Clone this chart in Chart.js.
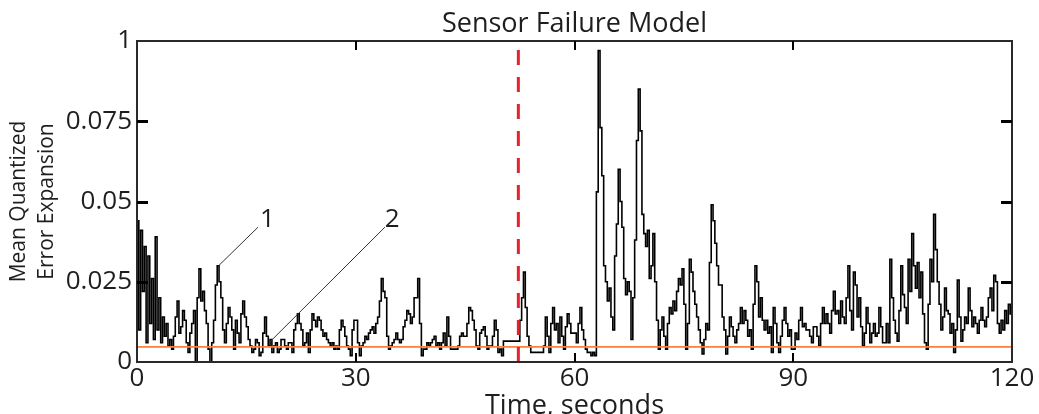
<!DOCTYPE html>
<html>
<head>
<meta charset="utf-8">
<script src="https://cdn.jsdelivr.net/npm/chart.js@4.4.1/dist/chart.umd.min.js"></script>
<style>
  html, body { margin: 0; padding: 0; background: #ffffff; }
  #wrap { width: 1039px; height: 414px; }
</style>
</head>
<body>
<div id="wrap"><canvas id="c" width="1039" height="414"></canvas></div>
<script>
// ---------------- data ----------------
const chartTitle = 'Sensor Failure Model';
const xAxisTitle = 'Time, seconds';
const yAxisTitle = ['Mean Quantized', 'Error Expansion'];
const xTickLabels = ['0', '30', '60', '90', '120'];
const yTickLabels = ['0', '0.025', '0.05', '0.075', '1'];

const sampleStep = 0.25; // seconds between samples

// Mean quantized error expansion, one value every 0.25 s from t = 0 to t = 120
const errorValues = [
  0.044, 0.010, 0.041, 0.022, 0.036, 0.006, 0.033, 0.012, 0.026, 0.007, 0.039, 0.010, 0.020, 0.006, 0.014, 0.008, 0.012, 0.005, 0.007, 0.004,
  0.008, 0.014, 0.019, 0.009, 0.011, 0.016, 0.013, 0.006, 0.003, 0.009, 0.012, 0.016, 0.000, 0.020, 0.029, 0.019, 0.022, 0.016, 0.012, 0.004,
  0.000, 0.006, 0.013, 0.024, 0.030, 0.025, 0.020, 0.010, 0.006, 0.012, 0.017, 0.014, 0.010, 0.004, 0.013, 0.009, 0.006, 0.015, 0.019, 0.014,
  0.011, 0.007, 0.005, 0.003, 0.004, 0.007, 0.006, 0.002, 0.003, 0.009, 0.014, 0.008, 0.005, 0.007, 0.003, 0.005, 0.006, 0.003, 0.004, 0.007,
  0.007, 0.005, 0.004, 0.006, 0.006, 0.003, 0.010, 0.012, 0.015, 0.012, 0.010, 0.005, 0.006, 0.009, 0.003, 0.010, 0.015, 0.013, 0.011, 0.014,
  0.013, 0.010, 0.008, 0.009, 0.007, 0.006, 0.005, 0.006, 0.004, 0.005, 0.004, 0.010, 0.013, 0.011, 0.008, 0.005, 0.004, 0.002, 0.010, 0.013,
  0.013, 0.006, 0.002, 0.005, 0.006, 0.008, 0.007, 0.009, 0.010, 0.011, 0.009, 0.012, 0.014, 0.019, 0.026, 0.022, 0.020, 0.008, 0.004, 0.005,
  0.006, 0.007, 0.009, 0.007, 0.006, 0.007, 0.011, 0.013, 0.016, 0.015, 0.012, 0.014, 0.020, 0.020, 0.026, 0.012, 0.002, 0.004, 0.004, 0.006,
  0.005, 0.006, 0.007, 0.008, 0.005, 0.006, 0.004, 0.006, 0.009, 0.005, 0.014, 0.008, 0.004, 0.004, 0.004, 0.004, 0.005, 0.008, 0.009, 0.008,
  0.008, 0.012, 0.017, 0.016, 0.013, 0.010, 0.005, 0.004, 0.009, 0.010, 0.011, 0.008, 0.004, 0.005, 0.005, 0.008, 0.013, 0.010, 0.003, 0.004,
  0.002, 0.0065, 0.0065, 0.0065, 0.0065, 0.0065, 0.0065, 0.0065, 0.0065, 0.0065, 0.013, 0.020, 0.028, 0.017, 0.008, 0.005, 0.003, 0.003, 0.003, 0.003,
  0.003, 0.003, 0.003, 0.005, 0.014, 0.008, 0.003, 0.012, 0.017, 0.010, 0.012, 0.006, 0.014, 0.008, 0.004, 0.011, 0.015, 0.012, 0.009, 0.009,
  0.009, 0.006, 0.012, 0.017, 0.010, 0.007, 0.004, 0.003, 0.003, 0.002, 0.003, 0.002, 0.053, 0.097, 0.073, 0.058, 0.030, 0.025, 0.019, 0.023,
  0.014, 0.010, 0.033, 0.043, 0.060, 0.050, 0.042, 0.026, 0.021, 0.025, 0.022, 0.007, 0.020, 0.038, 0.069, 0.085, 0.072, 0.046, 0.040, 0.036,
  0.041, 0.026, 0.030, 0.040, 0.025, 0.013, 0.004, 0.010, 0.014, 0.008, 0.004, 0.012, 0.017, 0.015, 0.019, 0.016, 0.022, 0.026, 0.024, 0.029,
  0.018, 0.004, 0.012, 0.032, 0.028, 0.022, 0.018, 0.014, 0.010, 0.006, 0.0025, 0.007, 0.012, 0.010, 0.031, 0.049, 0.044, 0.037, 0.030, 0.024,
  0.024, 0.014, 0.010, 0.0025, 0.008, 0.014, 0.011, 0.008, 0.006, 0.010, 0.012, 0.017, 0.012, 0.016, 0.013, 0.008, 0.010, 0.004, 0.018, 0.030,
  0.025, 0.014, 0.020, 0.013, 0.010, 0.013, 0.009, 0.011, 0.003, 0.017, 0.012, 0.006, 0.003, 0.008, 0.013, 0.017, 0.012, 0.008, 0.010, 0.004,
  0.004, 0.009, 0.007, 0.013, 0.017, 0.011, 0.012, 0.010, 0.010, 0.008, 0.006, 0.011, 0.011, 0.008, 0.005, 0.012, 0.017, 0.012, 0.015, 0.012,
  0.009, 0.016, 0.022, 0.015, 0.016, 0.012, 0.019, 0.014, 0.012, 0.020, 0.030, 0.016, 0.010, 0.028, 0.024, 0.014, 0.020, 0.011, 0.005, 0.009,
  0.017, 0.012, 0.006, 0.009, 0.012, 0.008, 0.009, 0.017, 0.011, 0.006, 0.006, 0.012, 0.006, 0.032, 0.020, 0.013, 0.009, 0.0065, 0.016, 0.030,
  0.021, 0.017, 0.012, 0.032, 0.022, 0.040, 0.030, 0.023, 0.031, 0.020, 0.028, 0.015, 0.006, 0.004, 0.018, 0.032, 0.025, 0.046, 0.035, 0.025,
  0.018, 0.010, 0.014, 0.023, 0.016, 0.015, 0.009, 0.012, 0.003, 0.010, 0.0255, 0.014, 0.0065, 0.010, 0.014, 0.012, 0.023, 0.016, 0.011, 0.014,
  0.012, 0.009, 0.013, 0.017, 0.013, 0.011, 0.014, 0.020, 0.023, 0.016, 0.027, 0.025, 0.012, 0.009, 0.013, 0.010, 0.016, 0.012, 0.018, 0.015, 0.018
];

const thresholdLevel = 0.0047;   // orange reference level
const failureTime = 52.3;        // red dashed line (sensor failure)
const xRange = [0, 120];
const yRange = [0, 0.1];

// callout labels: text, the point on the curve they refer to, and where the label sits
const callouts = [
  { text: '1', target: [11.2, 0.030], anchor: [16.6, 0.042], label: [17.9, 0.0443] },
  { text: '2', target: [18.2, 0.0062], anchor: [34.0, 0.042], label: [35.0, 0.0443] }
];

// -------------- build datasets --------------
const seriesPoints = errorValues.map((v, i) => ({ x: i * sampleStep, y: v }));
const thresholdPoints = [{ x: xRange[0], y: thresholdLevel }, { x: xRange[1], y: thresholdLevel }];
const failurePoints = [{ x: failureTime, y: yRange[0] }, { x: failureTime, y: yRange[1] }];

const FONT = '"Open Sans", "DejaVu Sans", sans-serif';
const TEXT = '#1e1e1e';

const overlay = {
  id: 'overlay',
  afterDraw(chart) {
    const { ctx, chartArea: a, scales: { x, y } } = chart;
    ctx.save();
    const line = (x1, y1, x2, y2) => { ctx.beginPath(); ctx.moveTo(x1, y1); ctx.lineTo(x2, y2); ctx.stroke(); };

    // frame
    ctx.strokeStyle = '#2a2a2a';
    ctx.lineWidth = 2;
    ctx.strokeRect(a.left, a.top, a.right - a.left, a.bottom - a.top);

    // inward ticks
    ctx.strokeStyle = '#000';
    ctx.lineWidth = 3;
    y.ticks.forEach(t => {
      if (t.value <= yRange[0] + 1e-9 || t.value >= yRange[1] - 1e-9) return;
      const py = Math.round(y.getPixelForValue(t.value)) + 0.5;
      line(a.left, py, a.left + 11, py);
      line(a.right - 11, py, a.right, py);
    });
    ctx.lineWidth = 2;
    x.ticks.forEach(t => {
      if (t.value <= xRange[0] || t.value >= xRange[1]) return;
      const px = Math.round(x.getPixelForValue(t.value));
      line(px, a.top, px, a.top + 9);
      line(px, a.bottom - 9, px, a.bottom);
    });

    // title
    ctx.fillStyle = TEXT;
    ctx.font = '27px ' + FONT;
    ctx.textAlign = 'center';
    ctx.textBaseline = 'middle';
    ctx.fillText(chartTitle, (a.left + a.right) / 2, 24);

    // callouts
    ctx.strokeStyle = '#333';
    ctx.lineWidth = 1;
    ctx.font = '26px ' + FONT;
    callouts.forEach(c => {
      line(x.getPixelForValue(c.anchor[0]), y.getPixelForValue(c.anchor[1]),
           x.getPixelForValue(c.target[0]), y.getPixelForValue(c.target[1]));
      ctx.fillText(c.text, x.getPixelForValue(c.label[0]), y.getPixelForValue(c.label[1]));
    });
    ctx.restore();
  }
};

new Chart(document.getElementById('c'), {
  type: 'line',
  data: {
    datasets: [
      { data: failurePoints, borderColor: '#e8222c', borderWidth: 3, borderDash: [15, 12], pointRadius: 0, fill: false },
      { data: thresholdPoints, borderColor: '#f7803e', borderWidth: 1.6, pointRadius: 0, fill: false },
      { data: seriesPoints, borderColor: '#000000', borderWidth: 1.6, pointRadius: 0, stepped: true, fill: false }
    ]
  },
  options: {
    responsive: false,
    animation: false,
    events: [],
    layout: { padding: { top: 41, right: 27, left: 0, bottom: 0 } },
    plugins: { legend: { display: false }, tooltip: { enabled: false }, title: { display: false } },
    scales: {
      x: {
        type: 'linear', min: xRange[0], max: xRange[1],
        afterFit: s => { s.height = 52; },
        grid: { display: false, drawTicks: false },
        border: { display: false },
        ticks: {
          stepSize: 30, padding: 4, color: TEXT, maxRotation: 0,
          font: { family: FONT, size: 26, lineHeight: 1 },
          callback: (v, i) => xTickLabels[i]
        },
        title: { display: true, text: xAxisTitle, color: TEXT, padding: { top: 0, bottom: 0 },
                 font: { family: FONT, size: 27, lineHeight: 0.6 } }
      },
      y: {
        type: 'linear', min: yRange[0], max: yRange[1],
        afterFit: s => { s.width = 137; },
        grid: { display: false, drawTicks: false },
        border: { display: false },
        ticks: {
          stepSize: 0.025, padding: 5, color: TEXT,
          font: { family: FONT, size: 26, lineHeight: 1 },
          callback: (v, i) => yTickLabels[i]
        },
        title: { display: true, text: yAxisTitle, color: TEXT, padding: { top: 5, bottom: 0 },
                 font: { family: FONT, size: 21, lineHeight: 1.333 } }
      }
    }
  },
  plugins: [overlay]
});
</script>
</body>
</html>
